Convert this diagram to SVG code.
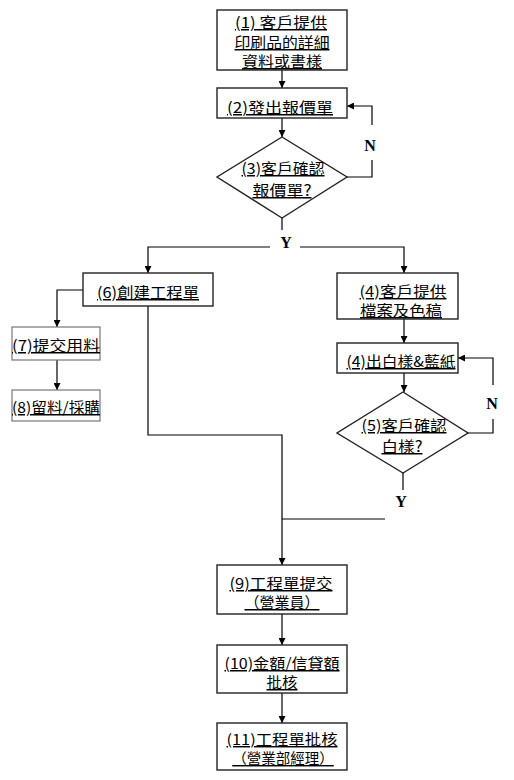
<svg xmlns="http://www.w3.org/2000/svg" width="514" height="780" viewBox="0 0 514 780">
<style>
.box{fill:#fff;stroke:#222;stroke-width:1.4}
.lbox{fill:#fff;stroke:#777;stroke-width:1.2}
.t{font-family:"Noto Sans CJK TC","Noto Sans CJK SC",sans-serif;font-size:15px;fill:#000;text-decoration:underline;text-anchor:middle}
.s{font-size:14.5px}
.yn{font-family:"Liberation Serif",serif;font-size:16px;font-weight:bold;fill:#000;text-anchor:middle}
.c{fill:none;stroke:#000;stroke-width:1.2}
</style>
<defs>
<marker id="ah" viewBox="0 0 10 10" refX="10" refY="5" markerWidth="7" markerHeight="7" markerUnits="userSpaceOnUse" orient="auto">
<path d="M0,0L10,5L0,10z" fill="#000"/>
</marker>
</defs>
<rect width="514" height="780" fill="#fff"/>
<g id="connectors">
<path class="c" d="M282,70V88" marker-end="url(#ah)"/>
<path class="c" d="M282,118V137" marker-end="url(#ah)"/>
<path class="c" d="M347,177H372V160"/>
<path class="c" d="M372,125V106H347" marker-end="url(#ah)"/>
<path class="c" d="M282,218V230"/>
<path class="c" d="M270,247H148V273" marker-end="url(#ah)"/>
<path class="c" d="M300,247H404V273" marker-end="url(#ah)"/>
<path class="c" d="M83,290H57V327" marker-end="url(#ah)"/>
<path class="c" d="M57,360V390" marker-end="url(#ah)"/>
<path class="c" d="M148,306V435H282V565" marker-end="url(#ah)"/>
<path class="c" d="M404,319V343" marker-end="url(#ah)"/>
<path class="c" d="M404,373V392" marker-end="url(#ah)"/>
<path class="c" d="M468,433H493V419"/>
<path class="c" d="M493,385V358H458" marker-end="url(#ah)"/>
<path class="c" d="M403,473V490"/>
<path class="c" d="M385,519H282"/>
<path class="c" d="M282,614V645" marker-end="url(#ah)"/>
<path class="c" d="M282,693V723" marker-end="url(#ah)"/>
</g>
<g id="labels">
<text class="yn" x="370" y="151">N</text>
<text class="yn" x="286" y="248">Y</text>
<text class="yn" x="492" y="409">N</text>
<text class="yn" x="401" y="507">Y</text>
</g>
<g id="n1">
<rect class="box" x="217" y="10" width="130" height="60"/>
<text class="t" x="281" y="28" textLength="92" lengthAdjust="spacingAndGlyphs">(1) 客戶提供</text>
<text class="t" x="282" y="48" textLength="95" lengthAdjust="spacingAndGlyphs">印刷品的詳細</text>
<text class="t" x="282" y="67" textLength="80" lengthAdjust="spacingAndGlyphs">資料或書樣</text>
</g>
<g id="n2">
<rect class="box" x="217" y="88" width="130" height="30"/>
<text class="t" x="280" y="113" textLength="106" lengthAdjust="spacingAndGlyphs">(2)發出報價單</text>
</g>
<g id="n3">
<polygon class="box" points="282,137 347,177 282,218 217,177"/>
<text class="t" x="283" y="174" textLength="83" lengthAdjust="spacingAndGlyphs">(3)客戶確認</text>
<text class="t" x="282" y="196" textLength="59" lengthAdjust="spacingAndGlyphs">報價單?</text>
</g>
<g id="n6">
<rect class="box" x="83" y="273" width="130" height="33"/>
<text class="t" x="148" y="298" textLength="102" lengthAdjust="spacingAndGlyphs">(6)創建工程單</text>
</g>
<g id="n7">
<rect class="lbox" x="12" y="327" width="88" height="33"/>
<text class="t" x="56" y="351" textLength="88" lengthAdjust="spacingAndGlyphs">(7)提交用料</text>
</g>
<g id="n8">
<rect class="lbox" x="12" y="390" width="88" height="31"/>
<text class="t" x="56" y="413" textLength="88" lengthAdjust="spacingAndGlyphs">(8)留料/採購</text>
</g>
<g id="n4a">
<rect class="box" x="337" y="273" width="121" height="46"/>
<text class="t s" x="403" y="297" textLength="87" lengthAdjust="spacingAndGlyphs">(4)客戶提供</text>
<text class="t s" x="401" y="316" textLength="82" lengthAdjust="spacingAndGlyphs">檔案及色稿</text>
</g>
<g id="n4b">
<rect class="box" x="337" y="343" width="121" height="30"/>
<text class="t" x="401" y="367" textLength="109" lengthAdjust="spacingAndGlyphs">(4)出白樣&amp;藍紙</text>
</g>
<g id="n5">
<polygon class="box" points="403,392 468,433 403,473 337,433"/>
<text class="t" x="404" y="431" textLength="85" lengthAdjust="spacingAndGlyphs">(5)客戶確認</text>
<text class="t" x="402" y="452" textLength="41" lengthAdjust="spacingAndGlyphs">白樣?</text>
</g>
<g id="n9">
<rect class="box" x="217" y="565" width="130" height="49"/>
<text class="t" x="281" y="589" textLength="103" lengthAdjust="spacingAndGlyphs">(9)工程單提交</text>
<text class="t" x="282" y="608">（營業員）</text>
</g>
<g id="n10">
<rect class="box" x="217" y="645" width="130" height="48"/>
<text class="t" x="282" y="669" textLength="115" lengthAdjust="spacingAndGlyphs">(10)金額/信貸額</text>
<text class="t" x="282" y="688" textLength="31" lengthAdjust="spacingAndGlyphs">批核</text>
</g>
<g id="n11">
<rect class="box" x="217" y="723" width="130" height="47"/>
<text class="t s" x="282" y="745" textLength="111" lengthAdjust="spacingAndGlyphs">(11)工程單批核</text>
<text class="t s" x="283" y="764">（營業部經理）</text>
</g>
</svg>
